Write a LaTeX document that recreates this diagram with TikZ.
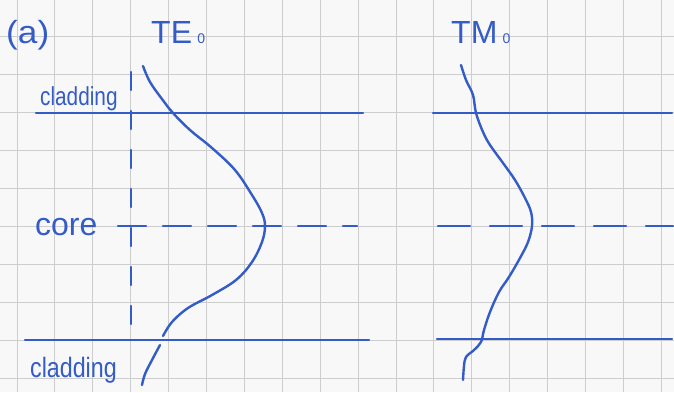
\documentclass[tikz,border=0pt]{standalone}
\usepackage{fontspec}
\setmainfont{Liberation Sans}
\definecolor{ink}{RGB}{52,92,200}
\definecolor{paper}{RGB}{248,248,248}
\definecolor{gridgray}{RGB}{205,205,205}
\tikzset{
  inkline/.style={draw=ink, line width=2.2pt, line cap=round},
  penline/.style={draw=ink, line width=2.4pt, line cap=round, line join=round},
  handtext/.style={text=ink, inner sep=0pt, anchor=base west},
}
\newcommand{\modeidx}{{\fontsize{14}{14}\selectfont 0}}
\begin{document}
\begin{tikzpicture}[x=1pt, y=-1pt]
  % paper and squared grid
  \fill[paper] (0,0) rectangle (674,392);
  \useasboundingbox (0,0) rectangle (674,392);
  \foreach \i in {0,...,17} \draw[gridgray, line width=0.9pt] ({17+37.9*\i},0) -- ({17+37.9*\i},392);
  \foreach \j in {0,...,10} \draw[gridgray, line width=0.9pt] (0,{-1+37.9*\j}) -- (674,{-1+37.9*\j});

  % labels
  \node[handtext, font=\fontsize{32}{32}\selectfont, xscale=1.1] (lbl) at (6,43) {(a)};
  \node[handtext, font=\fontsize{32}{32}\selectfont] (te) at (151,43) {TE\,\modeidx};
  \node[handtext, font=\fontsize{32}{32}\selectfont] (tm) at (451,43) {TM\,\modeidx};
  \node[handtext, font=\fontsize{26}{26}\selectfont, xscale=0.8] (cladtop) at (40,105) {cladding};
  \node[handtext, font=\fontsize{32}{32}\selectfont] (core) at (35,235) {core};
  \node[handtext, font=\fontsize{28}{28}\selectfont, xscale=0.83] (cladbot) at (30,377) {cladding};

  % interface lines
  \coordinate (tl1) at (36,113);  \coordinate (tl2) at (363,113);
  \coordinate (tr1) at (433,113); \coordinate (tr2) at (672,113);
  \coordinate (bl1) at (25,340);  \coordinate (bl2) at (369,340);
  \coordinate (br1) at (437,339); \coordinate (br2) at (672,339);
  \draw[inkline] (tl1) -- (tl2);
  \draw[inkline] (tr1) -- (tr2);
  \draw[inkline] (bl1) -- (bl2);
  \draw[inkline] (br1) -- (br2);

  % core centre line and axis
  \coordinate (cl1) at (118,226); \coordinate (cl2) at (357,226);
  \coordinate (cr1) at (438,226); \coordinate (cr2) at (673,226);
  \coordinate (ax1) at (131,72);  \coordinate (ax2) at (131,335);
  \draw[inkline, dash pattern=on 28pt off 17pt] (cl1) -- (cl2);
  \draw[inkline, dash pattern=on 32pt off 20pt] (cr1) -- (cr2);
  \draw[inkline, dash pattern=on 18pt off 21pt] (ax1) -- (ax2);

  % TE0 field profile
  \draw[penline] plot[smooth, tension=0.6] coordinates {
    (143,66) (150,82) (162,99) (173,113) (190,130) (212,148) (235,170)
    (252,195) (262,213) (265,226) (262,242) (252,262) (236,280) (212,295)
    (188,308) (172,322) (163,336)};
  \draw[penline] plot[smooth, tension=0.6] coordinates {
    (160,345) (152,360) (145,374) (142,385)};

  % TM0 field profile
  \draw[penline] plot[smooth, tension=0.6] coordinates {
    (461,65) (466,80) (473,95) (476,113) (483,132) (490,145) (503,163)
    (515,180) (525,198) (531,212) (532,226) (528,242) (520,258) (509,277)
    (499,292) (490,312) (484,330) (481,342) (474,350) (466,357) (464,366)
    (463,380)};
\end{tikzpicture}
\end{document}
